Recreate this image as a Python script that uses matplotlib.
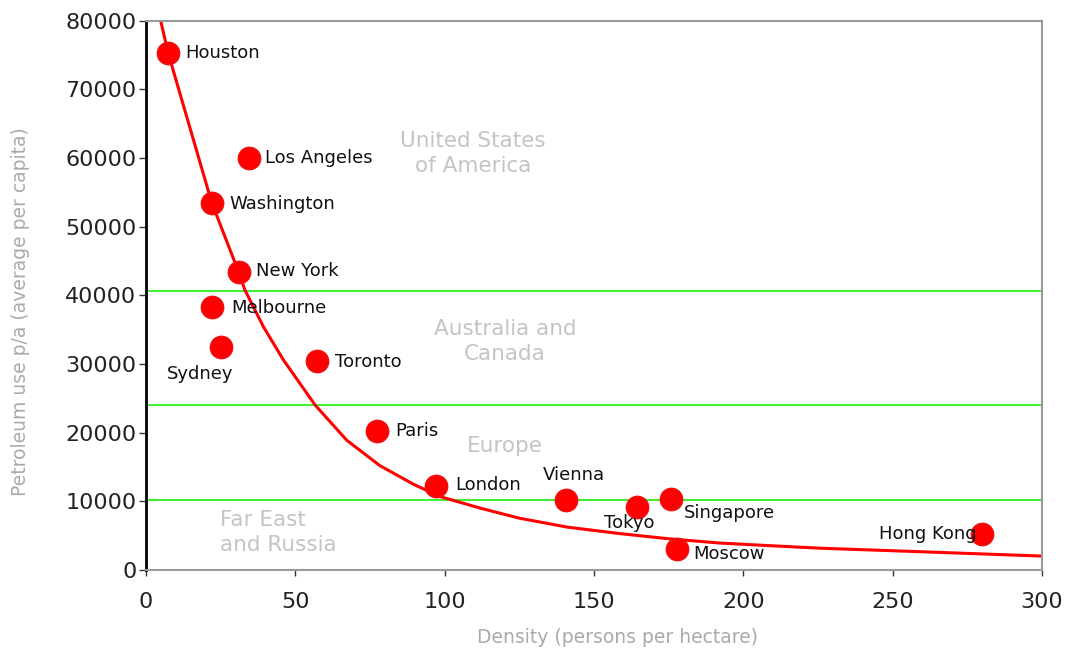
import matplotlib
matplotlib.use("Agg")
import matplotlib.pyplot as plt

# city data (density, petroleum use)
cities = ["Houston", "Los Angeles", "Washington", "New York", "Melbourne", "Sydney",
          "Toronto", "Paris", "London", "Vienna", "Tokyo", "Singapore", "Moscow", "Hong Kong"]
density = [7.3, 34.5, 22.1, 31.1, 22.1, 25.1, 57.2, 77.3, 97.1, 140.6, 164.5, 175.7, 177.8, 279.8]
petrol = [75300, 60000, 53450, 43400, 38300, 32500, 30400, 20200, 12200, 10200, 9200, 10300, 3100, 5200]

# trend curve
curve_x = [4.9, 7.4, 14.7, 22, 31, 33.1, 39.3, 46, 56.6, 67.2, 78.3, 89.5, 98.4, 112, 125,
           141, 158.7, 175, 192, 210, 225.6, 259, 299.3]
curve_y = [80000, 75300, 64400, 53500, 43400, 40780, 35430, 30590, 24030, 18900, 15200, 12500,
           10700, 9000, 7550, 6250, 5300, 4550, 3930, 3520, 3180, 2670, 2040]

# region boundaries
bands = [10200, 24000, 40700]

regions = ["United States\nof America", "Australia and\nCanada", "Europe", "Far East\nand Russia"]
region_x = [109.5, 120.2, 120.2, 24.8]
region_y = [60700, 33300, 18000, 5500]
region_ha = ["center", "center", "center", "left"]

# label offsets in pixels and alignment
offsets = [(17, 0), (16, 0), (17, -1), (17, 1), (19, -1), (-21, -27), (18, -1), (18, 0),
           (19, 1), (8, 25), (-8, -16), (13, -14), (16, -5), (-5, 0)]
aligns = ["left", "left", "left", "left", "left", "center", "left", "left",
          "left", "center", "center", "left", "left", "right"]

fig = plt.figure(figsize=(10.77, 6.51), dpi=100)
ax = fig.add_axes([0.1356, 0.1244, 0.8319, 0.8438])

for b in bands:
    ax.axhline(b, color="#44ee33", lw=1.5, zorder=1)

ax.plot(curve_x, curve_y, color="#ff0000", lw=2.2, zorder=2, solid_joinstyle="round")
ax.scatter(density, petrol, s=260, color="#ff0000", edgecolor="#ee1111", zorder=3)

for name, x, y, off, ha in zip(cities, density, petrol, offsets, aligns):
    ax.annotate(name, (x, y), xytext=off, textcoords="offset pixels",
                ha=ha, va="center", fontsize=13, color="#111111", zorder=4)

for t, x, y, ha in zip(regions, region_x, region_y, region_ha):
    ax.text(x, y, t, ha=ha, va="center", fontsize=15.5, color="#c4c4c4",
            linespacing=1.3, multialignment=ha)

ax.set_xlim(0, 300)
ax.set_ylim(0, 80000)
ax.set_xticks([0, 50, 100, 150, 200, 250, 300])
ax.set_yticks(range(0, 80001, 10000))

ax.spines["left"].set_color("black")
ax.spines["left"].set_linewidth(2)
for s in ["top", "right", "bottom"]:
    ax.spines[s].set_color("#999999")
    ax.spines[s].set_linewidth(1.5)

ax.tick_params(axis="y", length=5, width=1, color="#333333", labelsize=16,
               labelcolor="#222222", pad=2)
ax.tick_params(axis="x", length=4, width=1, color="#333333", labelsize=16,
               labelcolor="#222222", pad=12)

ax.set_xlabel("Density (persons per hectare)", fontsize=13.5, color="#aaaaaa")
ax.set_ylabel("Petroleum use p/a (average per capita)", fontsize=13.5, color="#aaaaaa")
ax.xaxis.set_label_coords(0.526, -0.105)
ax.yaxis.set_label_coords(-0.13, 0.47)

fig.savefig("out.png", dpi=100)
